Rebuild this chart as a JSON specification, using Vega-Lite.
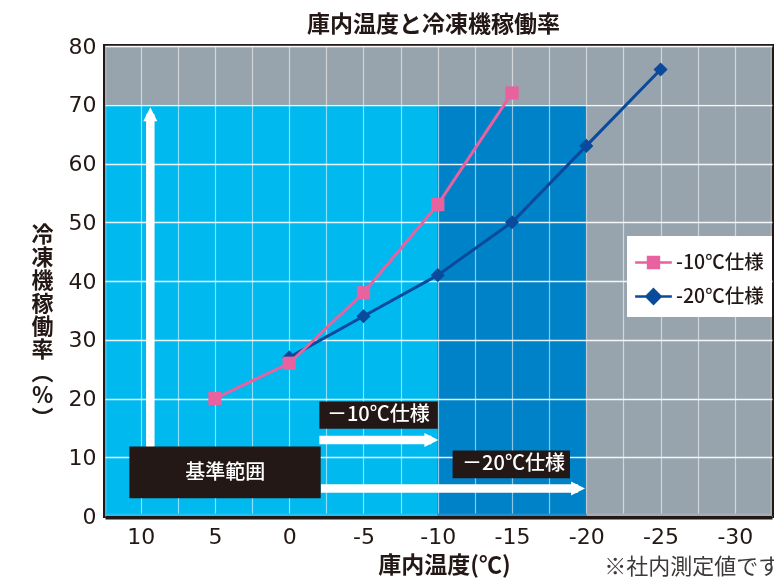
{
  "$schema": "https://vega.github.io/schema/vega-lite/v6.json",
  "width": 667,
  "height": 470,
  "autosize": {"type": "none"},
  "padding": {"left": 105, "top": 46, "right": 2, "bottom": 63},
  "background": "white",
  "view": {"fill": "black", "stroke": "#231815", "strokeWidth": 4},
  "title": {
    "text": "庫内温度と冷凍機稼働率",
    "font": "Noto Sans CJK JP",
    "fontSize": 23,
    "fontWeight": "bold",
    "color": "#231815",
    "anchor": "middle",
    "frame": "group",
    "dx": -5,
    "offset": -13,
    "baseline": "middle"
  },
  "datasets": {
    "series": [
      {"series": "-20℃仕様", "temp": 0, "rate": 27},
      {"series": "-20℃仕様", "temp": -5, "rate": 34},
      {"series": "-20℃仕様", "temp": -10, "rate": 41},
      {"series": "-20℃仕様", "temp": -15, "rate": 50},
      {"series": "-20℃仕様", "temp": -20, "rate": 63},
      {"series": "-20℃仕様", "temp": -25, "rate": 76},
      {"series": "-10℃仕様", "temp": 5, "rate": 20},
      {"series": "-10℃仕様", "temp": 0, "rate": 26},
      {"series": "-10℃仕様", "temp": -5, "rate": 38},
      {"series": "-10℃仕様", "temp": -10, "rate": 53},
      {"series": "-10℃仕様", "temp": -15, "rate": 72}
    ],
    "zones": [
      {"zone": "gray", "x1": 12.4, "x2": -32.5, "y1": 70, "y2": 80},
      {"zone": "gray", "x1": -20, "x2": -32.5, "y1": 0, "y2": 70},
      {"zone": "light", "x1": 12.4, "x2": -10, "y1": 0, "y2": 70},
      {"zone": "dark", "x1": -10, "x2": -20, "y1": 0, "y2": 70}
    ],
    "shafts": [
      {"x1": 9.35, "x2": 9.35, "y1": 8, "y2": 68.4},
      {"x1": -2.03, "x2": -9.57, "y1": 12.95, "y2": 12.95},
      {"x1": -2.12, "x2": -19.44, "y1": 4.7, "y2": 4.7}
    ],
    "heads": [
      {"dir": "up", "x": 9.35, "y": 68.4},
      {"dir": "right", "x": -9.57, "y": 12.95},
      {"dir": "right", "x": -19.44, "y": 4.7}
    ],
    "boxes": [
      {"x1": 10.76, "x2": -2.12, "y1": 3.03, "y2": 11.84},
      {"x1": -2.03, "x2": -10.0, "y1": 14.85, "y2": 19.5},
      {"x1": -11.0, "x2": -18.9, "y1": 6.44, "y2": 11.16}
    ],
    "boxtexts": [
      {"label": "基準範囲", "x": 4.3, "y": 7.4},
      {"label": "－10℃仕様", "x": -6.0, "y": 17.2},
      {"label": "－20℃仕様", "x": -15.1, "y": 8.8}
    ],
    "notes": [
      {"note": "※社内測定値です", "x": -21.2, "y": -8.6}
    ]
  },
  "layer": [
    {
      "data": {"name": "zones"},
      "mark": {"type": "rect", "blend": "screen"},
      "encoding": {
        "x": {
          "field": "x1",
          "type": "quantitative",
          "scale": {"domain": [-32.5, 12.4], "reverse": true, "nice": false, "zero": false},
          "axis": {
            "title": "庫内温度(℃)",
            "values": [10, 7.5, 5, 2.5, 0, -2.5, -5, -7.5, -10, -12.5, -15, -17.5, -20, -22.5, -25, -27.5, -30],
            "labelExpr": "datum.value % 5 == 0 ? toString(datum.value) : ''",
            "grid": true,
            "gridColor": "white",
            "gridOpacity": 0.55,
            "gridWidth": 1.2,
            "ticks": false,
            "domain": true,
            "domainColor": "#231815",
            "domainWidth": 6,
            "labelFont": "DejaVu Sans",
            "labelFontSize": 22,
            "labelColor": "#231815",
            "labelPadding": 10,
            "labelOverlap": false,
            "labelFlush": false,
            "titleFont": "Noto Sans CJK JP",
            "titleFontSize": 23,
            "titleFontWeight": "bold",
            "titleColor": "#231815",
            "titleX": 339,
            "titleY": 49,
            "titleAlign": "center",
            "titleBaseline": "middle"
          }
        },
        "x2": {"field": "x2"},
        "y": {
          "field": "y1",
          "type": "quantitative",
          "scale": {"domain": [0, 80], "nice": false, "zero": false},
          "axis": {
            "title": ["冷", "凍", "機", "稼", "働", "率", "︵", "%", "︶"],
            "values": [0, 10, 20, 30, 40, 50, 60, 70, 80],
            "grid": true,
            "gridColor": "white",
            "gridOpacity": 0.9,
            "gridWidth": 1.5,
            "ticks": false,
            "domain": false,
            "labelFont": "DejaVu Sans",
            "labelFontSize": 22,
            "labelColor": "#231815",
            "labelPadding": 9,
            "titleFont": "Noto Sans CJK JP",
            "titleFontSize": 22,
            "titleFontWeight": "bold",
            "titleColor": "#231815",
            "titleAngle": 0,
            "titleX": -63,
            "titleY": 178,
            "titleAlign": "center",
            "titleBaseline": "top",
            "titleLineHeight": 23
          }
        },
        "y2": {"field": "y2"},
        "fill": {
          "field": "zone",
          "type": "nominal",
          "scale": {"domain": ["light", "dark", "gray"], "range": ["#00b9ef", "#0082c8", "#97a4ae"]},
          "legend": null
        }
      }
    },
    {
      "data": {"name": "shafts"},
      "mark": {"type": "rule", "color": "white", "strokeWidth": 8.5, "strokeCap": "butt"},
      "encoding": {
        "x": {"field": "x1", "type": "quantitative"},
        "x2": {"field": "x2"},
        "y": {"field": "y1", "type": "quantitative"},
        "y2": {"field": "y2"}
      }
    },
    {
      "data": {"name": "heads"},
      "transform": [{"filter": "datum.dir == 'up'"}],
      "mark": {"type": "point", "shape": "M0,-1L1,1L-1,1Z", "filled": true, "color": "white", "size": 196, "opacity": 1, "strokeWidth": 0},
      "encoding": {
        "x": {"field": "x", "type": "quantitative"},
        "y": {"field": "y", "type": "quantitative"}
      }
    },
    {
      "data": {"name": "heads"},
      "transform": [{"filter": "datum.dir == 'right'"}],
      "mark": {"type": "point", "shape": "M1,0L-1,-1L-1,1Z", "filled": true, "color": "white", "size": 196, "opacity": 1, "strokeWidth": 0},
      "encoding": {
        "x": {"field": "x", "type": "quantitative"},
        "y": {"field": "y", "type": "quantitative"}
      }
    },
    {
      "data": {"name": "boxes"},
      "mark": {"type": "rect", "color": "#231815"},
      "encoding": {
        "x": {"field": "x1", "type": "quantitative"},
        "x2": {"field": "x2"},
        "y": {"field": "y1", "type": "quantitative"},
        "y2": {"field": "y2"}
      }
    },
    {
      "data": {"name": "boxtexts"},
      "mark": {"type": "text", "color": "white", "font": "Noto Sans CJK JP", "fontSize": 20, "fontWeight": 500, "align": "center", "baseline": "middle"},
      "encoding": {
        "x": {"field": "x", "type": "quantitative"},
        "y": {"field": "y", "type": "quantitative"},
        "text": {"field": "label"}
      }
    },
    {
      "data": {"name": "series"},
      "transform": [{"filter": "datum.series == '-20℃仕様'"}],
      "mark": {"type": "line", "color": "#0a4a9c", "strokeWidth": 3},
      "encoding": {
        "x": {"field": "temp", "type": "quantitative"},
        "y": {"field": "rate", "type": "quantitative"}
      }
    },
    {
      "data": {"name": "series"},
      "transform": [{"filter": "datum.series == '-20℃仕様'"}],
      "mark": {"type": "point", "shape": "diamond", "filled": true, "color": "#0a4a9c", "size": 200, "opacity": 1, "strokeWidth": 0},
      "encoding": {
        "x": {"field": "temp", "type": "quantitative"},
        "y": {"field": "rate", "type": "quantitative"}
      }
    },
    {
      "data": {"name": "series"},
      "transform": [{"filter": "datum.series == '-10℃仕様'"}],
      "mark": {"type": "line", "color": "#e8629f", "strokeWidth": 3},
      "encoding": {
        "x": {"field": "temp", "type": "quantitative"},
        "y": {"field": "rate", "type": "quantitative"}
      }
    },
    {
      "data": {"name": "series"},
      "transform": [{"filter": "datum.series == '-10℃仕様'"}],
      "mark": {"type": "point", "shape": "square", "filled": true, "color": "#e8629f", "size": 176, "opacity": 1, "strokeWidth": 0},
      "encoding": {
        "x": {"field": "temp", "type": "quantitative"},
        "y": {"field": "rate", "type": "quantitative"}
      }
    },
    {
      "data": {"name": "series"},
      "transform": [{"filter": "false"}],
      "mark": {"type": "point", "filled": true, "opacity": 1, "strokeWidth": 2.5},
      "encoding": {
        "x": {"field": "temp", "type": "quantitative"},
        "y": {"field": "rate", "type": "quantitative"},
        "shape": {
          "field": "series",
          "type": "nominal",
          "scale": {"domain": ["-10℃仕様", "-20℃仕様"], "range": ["M-1.08,0H1.08M-0.32,-0.32H0.32V0.32H-0.32Z", "M-1.08,0H1.08M0,-0.42L0.42,0L0,0.42L-0.42,0Z"]}
        },
        "stroke": {
          "field": "series",
          "type": "nominal",
          "scale": {"domain": ["-10℃仕様", "-20℃仕様"], "range": ["#e8629f", "#0a4a9c"]}
        },
        "color": {
          "field": "series",
          "type": "nominal",
          "scale": {"domain": ["-10℃仕様", "-20℃仕様"], "range": ["#e8629f", "#0a4a9c"]},
          "legend": {
            "orient": "none",
            "legendX": 522,
            "legendY": 190,
            "title": null,
            "fillColor": "white",
            "padding": 8,
            "rowPadding": 5,
            "symbolSize": 1156,
            "symbolStrokeWidth": 2.5,
            "symbolOpacity": 1,
            "labelFont": "Noto Sans CJK JP",
            "labelFontSize": 19.5,
            "labelFontWeight": 500,
            "labelColor": "#231815",
            "labelOffset": 4,
            "labelLimit": 200
          }
        }
      }
    },
    {
      "data": {"name": "notes"},
      "mark": {"type": "text", "color": "#3e3a39", "font": "Noto Sans CJK JP", "fontSize": 22, "align": "left", "baseline": "middle"},
      "encoding": {
        "x": {"field": "x", "type": "quantitative"},
        "y": {"field": "y", "type": "quantitative"},
        "text": {"field": "note"}
      }
    }
  ]
}
